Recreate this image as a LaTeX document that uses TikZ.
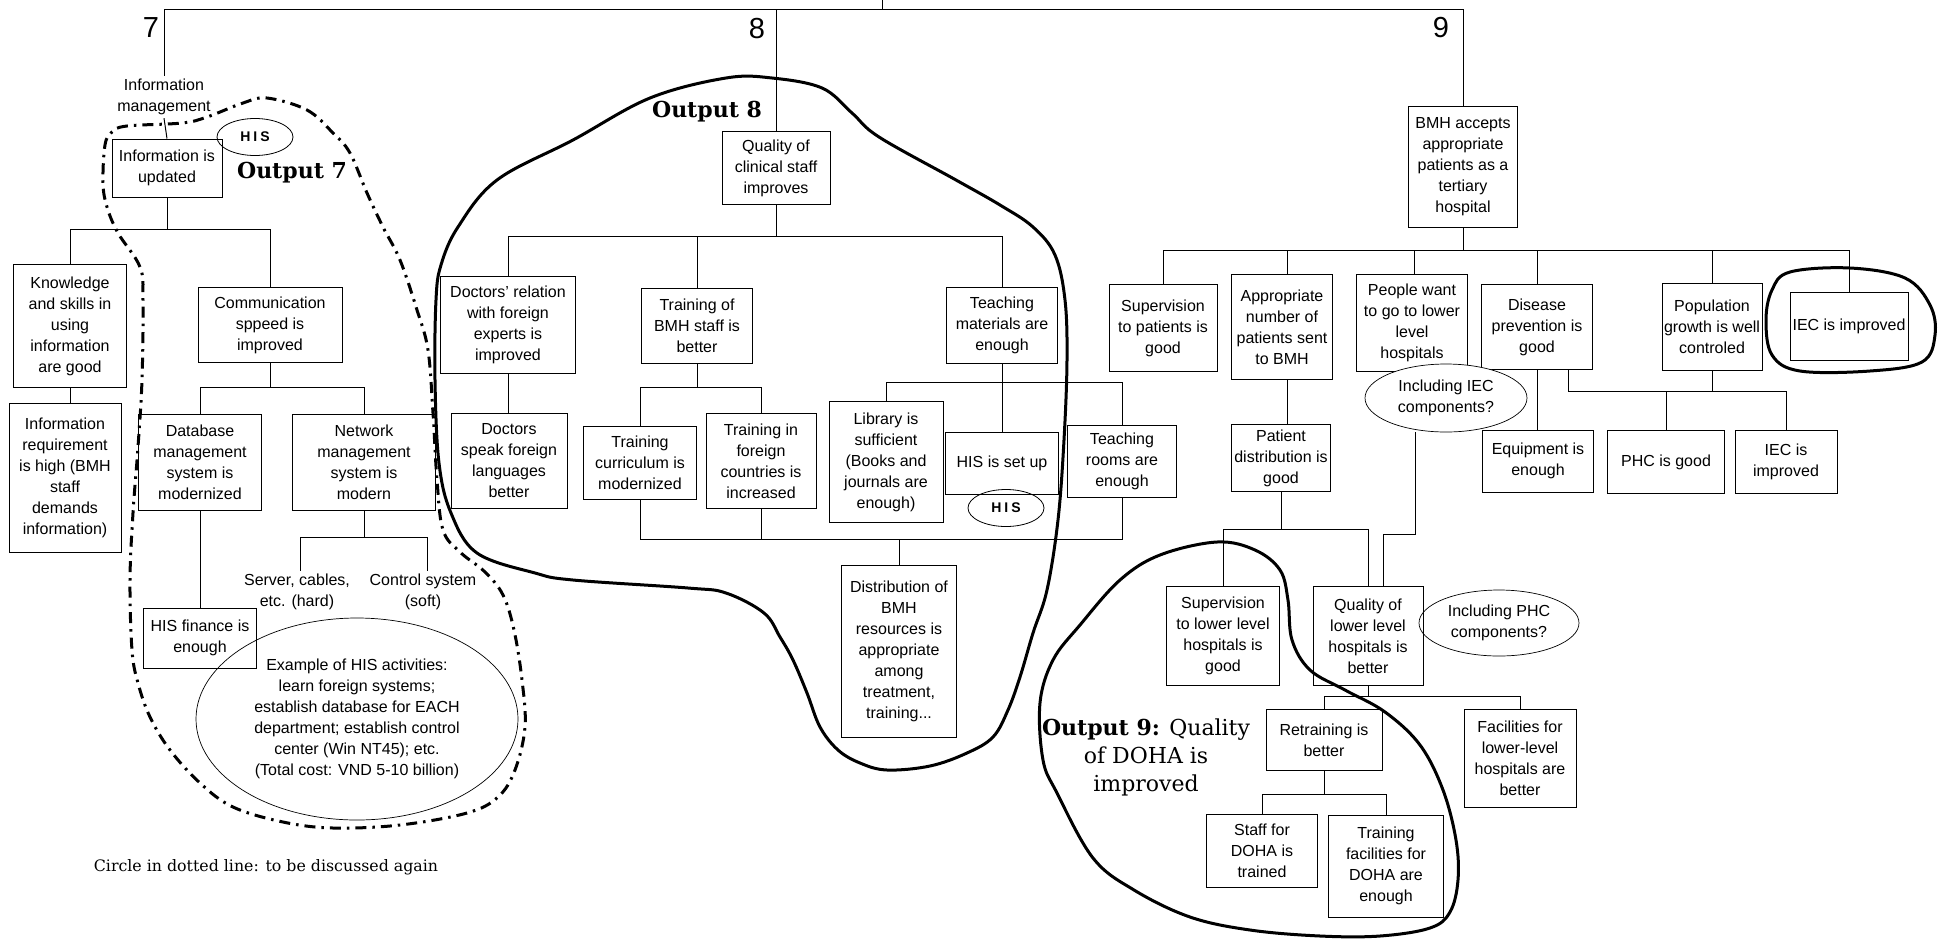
\documentclass[tikz,border=0pt]{standalone}
\usepackage{fontspec}
\setmainfont{Liberation Sans}
\newfontfamily\outserif{DejaVu Serif}
\usetikzlibrary{shapes.geometric, positioning}
\newcommand{\boxtxt}{\fontsize{16}{21}\selectfont}
\newcommand{\numtxt}{\fontsize{29}{32}\selectfont}
\newcommand{\outtxt}{\outserif\fontsize{22}{28}\selectfont}
\newcommand{\histxt}{\fontsize{14}{16}\selectfont\bfseries}
\newcommand{\notetxt}{\outserif\fontsize{15.8}{18}\selectfont}
\tikzstyle{box}     = [rectangle, draw=black, line width=1pt, align=center,
                       inner sep=2pt, font=\boxtxt]
\tikzstyle{bubble}  = [ellipse, draw=black, line width=0.7pt, align=center,
                       inner sep=0pt, font=\boxtxt]
\tikzstyle{hisnode} = [ellipse, draw=black, line width=0.8pt, inner sep=0pt,
                       minimum width=76, minimum height=37, font=\histxt]
\tikzstyle{plain}   = [align=center, inner sep=3pt, font=\boxtxt]
\tikzstyle{branch}  = [inner sep=0pt, font=\numtxt]
\tikzstyle{outlbl}  = [align=center, inner sep=0pt, font=\outtxt]
\tikzstyle{line}    = [line width=1pt]
\tikzstyle{outline} = [line width=3pt, line join=round]
\tikzstyle{dashout} = [line width=3pt, dash pattern=on 11pt off 6pt on 2.5pt off 6pt]

\begin{document}
\begin{tikzpicture}[x=1pt, y=-1pt]
  \useasboundingbox (0,0) rectangle (1939,938);
  \coordinate (root) at (882,0);

  % Output 7
  \node (lbl7)     [branch] at (151,28) {7};
  \node (infomgmt) [plain] at (164,97) {Information\\management};
  \node (infoupd)  [box, minimum width=110, minimum height=58] at (167,168) {Information is\\updated};
  \node (his7)     [hisnode] at (255,137) {H\hspace{3pt}I\hspace{3pt}S};
  \node (out7)     [outlbl] at (292,173) {\textbf{Output 7}};
  \node (knowl)    [box, minimum width=113, minimum height=123] at (70,326)
                   {Knowledge\\and skills in\\using\\information\\are good};
  \node (inforeq)  [box, minimum width=112, minimum height=149] at (65,478)
                   {Information\\requirement\\is high (BMH\\staff\\demands\\information)};
  \node (commspd)  [box, minimum width=144, minimum height=75] at (270,325) {Communication\\sppeed is\\improved};
  \node (dbms)     [box, minimum width=123, minimum height=96] at (200,462)
                   {Database\\management\\system is\\modernized};
  \node (netms)    [box, minimum width=143, minimum height=96] at (364,462)
                   {Network\\management\\system is\\modern};
  \node (hisfin)   [box, minimum width=113, minimum height=60] at (200,638) {HIS finance is\\enough};
  \node (hard)     [plain] at (297,592) {Server, cables,\\etc. (hard)};
  \node (soft)     [plain] at (423,592) {Control system\\(soft)};
  \node (hisact)   [bubble, minimum width=322, minimum height=202] at (357,719)
                   {Example of HIS activities:\\learn foreign systems;\\establish database for EACH\\department; establish control\\center (Win NT45); etc.\\(Total cost: VND 5-10 billion)};
  \node (note)     [plain, font=\notetxt] at (266,867) {Circle in dotted line: to be discussed again};

  % Output 8
  \node (lbl8)  [branch] at (757,29) {8};
  \node (out8)  [outlbl] at (707,112) {\textbf{Output 8}};
  \node (qcs)   [box, minimum width=108, minimum height=73] at (776,168) {Quality of\\clinical staff\\improves};
  \node (dfe)   [box, minimum width=135, minimum height=97] at (508,325)
                {Doctors' relation\\with foreign\\experts is\\improved};
  \node (dsfl)  [box, minimum width=116, minimum height=95] at (509,461)
                {Doctors\\speak foreign\\languages\\better};
  \node (tbs)   [box, minimum width=111, minimum height=75] at (697,326) {Training of\\BMH staff is\\better};
  \node (tcm)   [box, minimum width=113, minimum height=73] at (640,463) {Training\\curriculum is\\modernized};
  \node (tfc)   [box, minimum width=110, minimum height=95] at (761,461)
                {Training in\\foreign\\countries is\\increased};
  \node (tme)   [box, minimum width=111, minimum height=76] at (1002,325) {Teaching\\materials are\\enough};
  \node (lib)   [box, minimum width=114, minimum height=121] at (886,462)
                {Library is\\sufficient\\(Books and\\journals are\\enough)};
  \node (hisup) [box, minimum width=113, minimum height=62] at (1002,463) {HIS is set up};
  \node (his8)  [hisnode] at (1006,508) {H\hspace{3pt}I\hspace{3pt}S};
  \node (trm)   [box, minimum width=109, minimum height=72] at (1122,461) {Teaching\\rooms are\\enough};
  \node (dist)  [box, minimum width=115, minimum height=172] at (899,651)
                {Distribution of\\BMH\\resources is\\appropriate\\among\\treatment,\\training...};
  \coordinate (distbus) at (899,539);

  % Output 9
  \node (lbl9) [branch] at (1441,28) {9};
  \node (bmh)  [box, minimum width=109, minimum height=121] at (1463,167)
               {BMH accepts\\appropriate\\patients as a\\tertiary\\hospital};
  \node (supp) [box, minimum width=108, minimum height=87] at (1163,328) {Supervision\\to patients is\\good};
  \node (apn)  [box, minimum width=101, minimum height=105] at (1282,327)
               {Appropriate\\number of\\patients sent\\to BMH};
  \node (pwl)  [box, minimum width=111, minimum height=97] at (1412,323)
               {People want\\to go to lower\\level\\hospitals};
  \node (dpg)  [box, minimum width=111, minimum height=85] at (1537,327) {Disease\\prevention is\\good};
  \node (pgc)  [box, minimum width=99, minimum height=87] at (1712,327) {Population\\growth is well\\controled};
  \node (iec1) [box, minimum width=118, minimum height=68] at (1849,326) {IEC is improved};
  \node (iecq) [bubble, fill=white, minimum width=162, minimum height=68] at (1446,398) {Including IEC\\components?};
  \node (eqe)  [box, minimum width=111, minimum height=62] at (1538,461) {Equipment is\\enough};
  \node (phc)  [box, minimum width=117, minimum height=63] at (1666,462) {PHC is good};
  \node (iec2) [box, minimum width=102, minimum height=63] at (1786,462) {IEC is\\improved};
  \node (pdg)  [box, minimum width=99, minimum height=67] at (1281,458) {Patient\\distribution is\\good};
  \node (svl)  [box, minimum width=113, minimum height=99] at (1223,636)
               {Supervision\\to lower level\\hospitals is\\good};
  \node (qll)  [box, minimum width=110, minimum height=99] at (1368,636)
               {Quality of\\lower level\\hospitals is\\better};
  \node (phcq) [bubble, minimum width=160, minimum height=66] at (1499,623) {Including PHC\\components?};
  \node (rtb)  [box, minimum width=116, minimum height=61] at (1324,740) {Retraining is\\better};
  \node (flh)  [box, minimum width=112, minimum height=98] at (1520,758)
               {Facilities for\\lower-level\\hospitals are\\better};
  \node (sdt)  [box, minimum width=111, minimum height=73] at (1262,851) {Staff for\\DOHA is\\trained};
  \node (tfd)  [box, minimum width=115, minimum height=102] at (1386,866)
               {Training\\facilities for\\DOHA are\\enough};
  \node (out9) [outlbl] at (1146,757) {\textbf{Output 9:} Quality\\of DOHA is\\improved};
  \coordinate (phcbus) at (1712,391);

  % top level
  \draw [line] (root) -- ++(0,9) -| (infomgmt.north);
  \draw [line] (root) -- ++(0,9) -| (qcs.north);
  \draw [line] (root) -- ++(0,9) -| (bmh.north);

  % tree 7
  \draw [line] (infomgmt.south) -- (infoupd.north);
  \draw [line] (infoupd.south) -- ++(0,32) -| (knowl.north);
  \draw [line] (infoupd.south) -- ++(0,32) -| (commspd.north);
  \draw [line] (knowl.south) -- (knowl.south |- inforeq.north);
  \draw [line] (commspd.south) -- ++(0,24) -| (dbms.north);
  \draw [line] (commspd.south) -- ++(0,24) -| (netms.north);
  \draw [line] (dbms.south) -- (hisfin.north);
  \draw [line] (netms.south) -- ++(0,27) -| ([xshift=3pt]hard.north);
  \draw [line] (netms.south) -- ++(0,27) -| ([xshift=4pt]soft.north);

  % tree 8
  \draw [line] (qcs.south) -- ++(0,31) -| (dfe.north);
  \draw [line] (qcs.south) -- ++(0,31) -| (tbs.north);
  \draw [line] (qcs.south) -- ++(0,31) -| (tme.north);
  \draw [line] (dfe.south) -- (dfe.south |- dsfl.north);
  \draw [line] (tbs.south) -- ++(0,23) -| (tcm.north);
  \draw [line] (tbs.south) -- ++(0,23) -| (tfc.north);
  \draw [line] (tme.south) -- ++(0,19) -| (lib.north);
  \draw [line] (tme.south) -- ++(0,19) -| (trm.north);
  \draw [line] (tme.south) -- (tme.south |- hisup.north);
  \draw [line] (tcm.south) -- (tcm.south |- distbus) -| (dist.north);
  \draw [line] (tfc.south) -- (tfc.south |- distbus) -| (dist.north);
  \draw [line] (trm.south) -- (trm.south |- distbus) -| (dist.north);

  % tree 9
  \draw [line] (bmh.south) -- ++(0,22) -| (supp.north);
  \draw [line] (bmh.south) -- ++(0,22) -| ([xshift=5pt]apn.north);
  \draw [line] (bmh.south) -- ++(0,22) -| ([xshift=2pt]pwl.north);
  \draw [line] (bmh.south) -- ++(0,22) -| (dpg.north);
  \draw [line] (bmh.south) -- ++(0,22) -| (pgc.north);
  \draw [line] (bmh.south) -- ++(0,22) -| (iec1.north);
  \draw [line] (dpg.south) -- (dpg.south |- eqe.north);
  \draw [line] ([xshift=31pt]dpg.south) |- (phcbus);
  \draw [line] (pgc.south) -- (phcbus);
  \draw [line] (phcbus) -| (phc.north);
  \draw [line] (phcbus) -| (iec2.north);
  \draw [line] ([xshift=5pt]apn.south) -- ([xshift=5pt]apn.south |- pdg.north);
  \draw [line] (pdg.south) -- ++(0,37) -| (svl.north);
  \draw [line] (pdg.south) -- ++(0,37) -| (qll.north);
  \draw [line] ([xshift=-31pt]iecq.south) -- ++(0,102) -| ([xshift=15pt]qll.north);
  \draw [line] (qll.south) -- ++(0,10) -| (rtb.north);
  \draw [line] (qll.south) -- ++(0,10) -| (flh.north);
  \draw [line] (rtb.south) -- ++(0,23) -| (sdt.north);
  \draw [line] (rtb.south) -- ++(0,23) -| (tfd.north);

  % output circles
  \draw [dashout] plot [smooth cycle, tension=0.6] coordinates {
    (267,98) (307,110) (333,133) (350,153) (367,193) (383,227) (400,260) (417,310)
    (428,350) (433,413) (437,480) (443,530) (460,552) (485,572) (503,595) (514,630)
    (522,680) (525,727) (515,770) (498,797) (467,813) (400,825) (333,828) (283,822)
    (233,807) (200,783) (170,750) (150,717) (138,683) (132,650) (130,580) (133,513)
    (138,447) (142,380) (143,300) (140,267) (118,233) (107,207) (103,183) (105,145)
    (112,132) (127,126) (182,123) (207,117) (243,103)};
  \draw [outline] plot [smooth cycle, tension=0.6] coordinates {
    (726,78) (772,78) (822,88) (852,113) (879,137) (956,180) (1000,205) (1033,227)
    (1055,255) (1065,300) (1067,360) (1064,440) (1058,520) (1047,590) (1033,633)
    (1020,677) (1008,710) (993,737) (967,753) (930,766) (887,770) (860,763)
    (838,750) (820,727) (807,693) (793,660) (780,637) (764,613) (726,593) (688,588)
    (573,580) (535,573) (477,553) (451,513) (439,463) (435,380) (436,300) (441,265)
    (458,227) (497,180) (573,140) (650,98)};
  \draw [outline] plot [smooth cycle, tension=0.6] coordinates {
    (1217,542) (1255,550) (1280,570) (1288,600) (1292,640) (1310,670) (1345,690)
    (1385,712) (1420,745) (1443,790) (1456,840) (1458,880) (1450,912) (1430,928)
    (1380,936) (1320,936) (1250,930) (1190,917) (1134,890) (1093,858) (1057,793)
    (1043,760) (1040,703) (1053,660) (1080,625) (1120,580) (1160,555)};
  \draw [outline] plot [smooth cycle, tension=0.6] coordinates {
    (1790,272) (1850,268) (1905,278) (1930,305) (1935,335) (1922,362) (1870,371)
    (1800,371) (1772,355) (1766,320) (1772,290)};
\end{tikzpicture}
\end{document}
